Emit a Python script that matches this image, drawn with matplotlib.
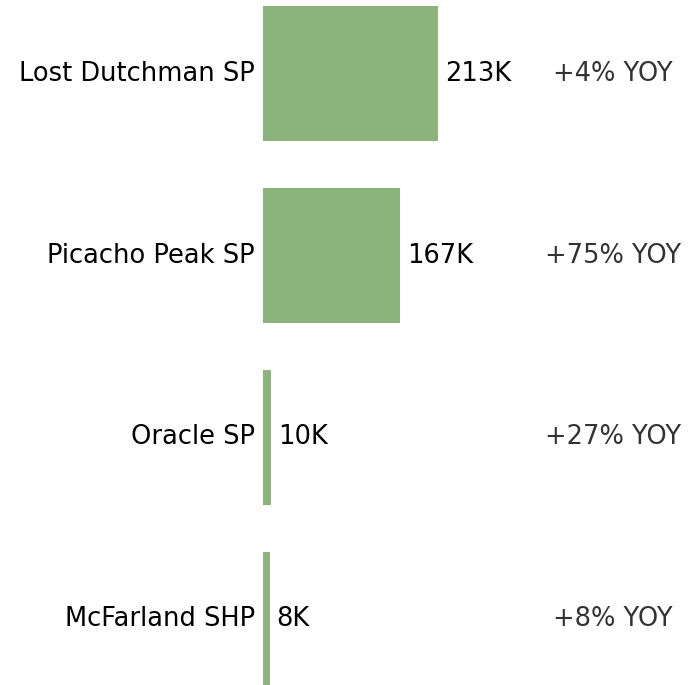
import matplotlib.pyplot as plt

parks = ["Lost Dutchman SP", "Picacho Peak SP", "Oracle SP", "McFarland SHP"]
visitors_k = [213, 167, 10, 8]
yoy_pct = [4, 75, 27, 8]

fig = plt.figure(figsize=(6.9, 6.85), dpi=100)
# axes starts where the bars start; everything left of it is label space
ax = fig.add_axes([263 / 690, 0, 427 / 690, 1])
ax.set_xlim(0, 427 / 175 * 213)
ax.set_ylim(3.36, -0.404)
ax.axis("off")

ypos = range(len(parks))
ax.barh(ypos, visitors_k, height=0.74, color="#8cb37b")

px = 213 / 175  # data units per pixel along x
for i, (name, v, g) in enumerate(zip(parks, visitors_k, yoy_pct)):
    ax.text(-8 * px, i, name, ha="right", va="center", fontsize=18.5, color="black")
    ax.text(v + 7 * px, i, f"{v}K", ha="left", va="center", fontsize=18.5, color="black")
    ax.text((613 - 263) * px, i, f"+{g}% YOY", ha="center", va="center",
            fontsize=18.5, color="#333333")

fig.savefig("out.png", dpi=100)
